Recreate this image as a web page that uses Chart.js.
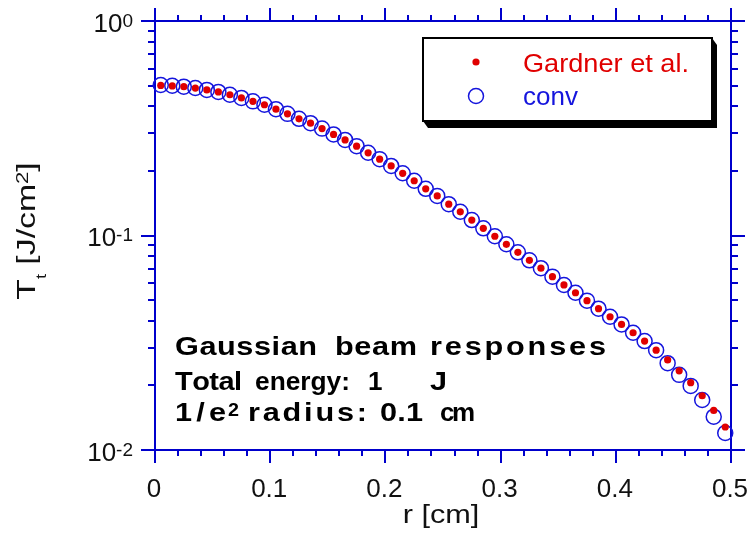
<!DOCTYPE html>
<html>
<head>
<meta charset="utf-8">
<script src="https://cdn.jsdelivr.net/npm/chart.js@4.4.1/dist/chart.umd.min.js"></script>
<style>
  html, body { margin: 0; padding: 0; background: #ffffff; }
  #wrap { width: 754px; height: 535px; position: relative; }
</style>
</head>
<body>
<div id="wrap"><canvas id="c" width="754" height="535"></canvas></div>
<script>
// Radial positions r [cm]
const radius = [
  0.005, 0.015, 0.025, 0.035, 0.045, 0.055, 0.065, 0.075, 0.085, 0.095,
  0.105, 0.115, 0.125, 0.135, 0.145, 0.155, 0.165, 0.175, 0.185, 0.195,
  0.205, 0.215, 0.225, 0.235, 0.245, 0.255, 0.265, 0.275, 0.285, 0.295,
  0.305, 0.315, 0.325, 0.335, 0.345, 0.355, 0.365, 0.375, 0.385, 0.395,
  0.405, 0.415, 0.425, 0.435, 0.445, 0.455, 0.465, 0.475, 0.485, 0.495
];

// Transmitted fluence T_t [J/cm^2], Gardner et al.
const gardner = [
  0.501, 0.498, 0.494, 0.487, 0.477, 0.467, 0.453, 0.438, 0.422, 0.407,
  0.388, 0.369, 0.350, 0.334, 0.315, 0.296, 0.279, 0.261, 0.243, 0.227,
  0.211, 0.195, 0.180, 0.165, 0.153, 0.140, 0.129, 0.118, 0.108, 0.0992,
  0.0910, 0.0835, 0.0766, 0.0704, 0.0643, 0.0588, 0.0541, 0.0497, 0.0456, 0.0418,
  0.0385, 0.0352, 0.0322, 0.0292, 0.0263, 0.0234, 0.0206, 0.0179, 0.0153, 0.0128
];

// Transmitted fluence T_t [J/cm^2], convolution result
const conv = [
  0.503, 0.499, 0.494, 0.487, 0.477, 0.467, 0.453, 0.438, 0.422, 0.407,
  0.388, 0.369, 0.350, 0.334, 0.315, 0.296, 0.279, 0.261, 0.243, 0.227,
  0.211, 0.195, 0.180, 0.165, 0.153, 0.140, 0.129, 0.118, 0.108, 0.0992,
  0.0910, 0.0835, 0.0766, 0.0704, 0.0643, 0.0588, 0.0541, 0.0497, 0.0456, 0.0418,
  0.0385, 0.0352, 0.0322, 0.0292, 0.0254, 0.0224, 0.0199, 0.0171, 0.0143, 0.0120
];

// Axis ticks
const xTicks = [0, 0.1, 0.2, 0.3, 0.4, 0.5];
const xTickLabels = ['0', '0.1', '0.2', '0.3', '0.4', '0.5'];
const yDecades = [1, 0.1, 0.01];
const yTickExponents = ['0', '-1', '-2'];

const seriesNames = ['Gardner et al.', 'conv'];
const infoLines = [
  ['Gaussian', 'beam', 'responses'],
  ['Total', 'energy:', '1', 'J'],
  ['1/e', '2', 'radius:', '0.1', 'cm']
];

const AXIS = '#0000cc';
const RED = '#e00000';
const BLUE = '#1515dd';
const FONT = '"Liberation Sans", Arial, Helvetica, sans-serif';

function toPoints(xs, ys) {
  return xs.map((x, i) => ({ x: x, y: ys[i] }));
}

// Draws a word so that it spans x0..x1: glyphs are widened a little,
// whatever is left goes into the gaps between letters
function drawSpread(ctx, text, x0, x1, y) {
  const chars = Array.from(text);
  const natural = ctx.measureText(text).width;
  const target = x1 - x0;
  const sx = Math.max(1, Math.min(1.18, target / natural));
  let w = 0;
  chars.forEach(c => { w += ctx.measureText(c).width * sx; });
  const gap = chars.length > 1 ? (target - w) / (chars.length - 1) : 0;
  let x = x0;
  ctx.textAlign = 'left';
  chars.forEach(c => {
    ctx.save();
    ctx.translate(x, y);
    ctx.scale(sx, 1);
    ctx.fillText(c, 0, 0);
    ctx.restore();
    x += ctx.measureText(c).width * sx + gap;
  });
}

const framePlugin = {
  id: 'frame',
  beforeDatasetsDraw(chart) {
    const ctx = chart.ctx;
    const xs = chart.scales.x, ys = chart.scales.y;
    const a = chart.chartArea;
    ctx.save();
    ctx.strokeStyle = AXIS;
    ctx.lineWidth = 2;
    ctx.lineCap = 'butt';
    ctx.strokeRect(a.left, a.top, a.right - a.left, a.bottom - a.top);

    const line = (x1, y1, x2, y2) => {
      ctx.beginPath(); ctx.moveTo(x1, y1); ctx.lineTo(x2, y2); ctx.stroke();
    };

    // x ticks (bottom and top, pointing outward)
    for (let i = 0; i < xTicks.length; i++) {
      const px = Math.round(xs.getPixelForValue(xTicks[i]));
      line(px, a.bottom, px, a.bottom + 13);
      line(px, a.top, px, a.top - 13);
      if (i < xTicks.length - 1) {
        const step = (xTicks[i + 1] - xTicks[i]) / 5;
        for (let k = 1; k < 5; k++) {
          const mx = Math.round(xs.getPixelForValue(xTicks[i] + k * step));
          line(mx, a.bottom, mx, a.bottom + 6);
          line(mx, a.top, mx, a.top - 6);
        }
      }
    }

    // y ticks (left and right, pointing outward)
    yDecades.forEach((d, i) => {
      const py = Math.round(ys.getPixelForValue(d));
      line(a.left - 14, py, a.left, py);
      line(a.right, py, a.right + 14, py);
      if (i < yDecades.length - 1) {
        const lower = yDecades[i + 1];
        for (let m = 2; m <= 9; m++) {
          const my = Math.round(ys.getPixelForValue(lower * m));
          line(a.left - 7, my, a.left, my);
          line(a.right, my, a.right + 7, my);
        }
      }
    });

    // tick labels
    ctx.fillStyle = '#111111';
    ctx.textBaseline = 'alphabetic';
    ctx.font = '26px ' + FONT;
    ctx.textAlign = 'center';
    xTicks.forEach((v, i) => {
      ctx.fillText(xTickLabels[i], xs.getPixelForValue(v) - 1, a.bottom + 47);
    });

    yDecades.forEach((d, i) => {
      const py = ys.getPixelForValue(d);
      const base = py + 10.5;
      ctx.font = '26px ' + FONT;
      const wBase = ctx.measureText('10').width;
      ctx.font = '19px ' + FONT;
      const wExp = ctx.measureText(yTickExponents[i]).width;
      const right = a.left - 22;
      ctx.textAlign = 'left';
      ctx.font = '26px ' + FONT;
      ctx.fillText('10', right - wExp - wBase, base);
      ctx.font = '19px ' + FONT;
      ctx.fillText(yTickExponents[i], right - wExp, base - 5);
    });
    ctx.restore();
  },
  afterDraw(chart) {
    const ctx = chart.ctx;
    const a = chart.chartArea;
    ctx.save();

    // x title, slightly widened
    ctx.fillStyle = '#111111';
    ctx.textBaseline = 'alphabetic';
    ctx.font = '26px ' + FONT;
    ctx.textAlign = 'center';
    ctx.save();
    ctx.translate((a.left + a.right) / 2 - 2, 523);
    ctx.scale(1.18, 1);
    ctx.fillText('r [cm]', 0, 0);
    ctx.restore();

    // y title, rotated and drawn a little wider along its reading direction
    ctx.save();
    ctx.translate(35, 231);
    ctx.rotate(-Math.PI / 2);
    ctx.scale(1.3, 1);
    const parts = [
      { t: 'T', f: 26, dy: 0 },
      { t: 't', f: 14, dy: 11 },
      { t: ' [J/cm', f: 26, dy: 0 },
      { t: '2', f: 17, dy: -7 },
      { t: ']', f: 26, dy: 0 }
    ];
    let total = 0;
    parts.forEach(p => { ctx.font = p.f + 'px ' + FONT; p.w = ctx.measureText(p.t).width; total += p.w; });
    let x = -total / 2;
    ctx.textAlign = 'left';
    parts.forEach(p => {
      ctx.font = p.f + 'px ' + FONT;
      ctx.fillText(p.t, x, p.dy);
      x += p.w;
    });
    ctx.restore();

    // legend box with drop shadow
    const L = 423, T = 38, R = 712, B = 121, sx = 5, sy = 7;
    ctx.fillStyle = '#000000';
    ctx.beginPath();
    ctx.moveTo(R, T);
    ctx.lineTo(R + sx, T + sy);
    ctx.lineTo(R + sx, B + sy);
    ctx.lineTo(L + sx, B + sy);
    ctx.lineTo(L, B);
    ctx.closePath();
    ctx.fill();
    ctx.fillStyle = '#ffffff';
    ctx.fillRect(L, T, R - L, B - T);
    ctx.strokeStyle = '#000000';
    ctx.lineWidth = 2;
    ctx.strokeRect(L, T, R - L, B - T);

    ctx.fillStyle = RED;
    ctx.beginPath(); ctx.arc(476, 62, 3.6, 0, Math.PI * 2); ctx.fill();
    ctx.strokeStyle = BLUE;
    ctx.lineWidth = 1.5;
    ctx.beginPath(); ctx.arc(476, 96, 7.5, 0, Math.PI * 2); ctx.stroke();

    ctx.font = '26px ' + FONT;
    ctx.textAlign = 'left';
    ctx.fillStyle = RED;
    drawSpread(ctx, seriesNames[0], 523, 689, 72);
    ctx.fillStyle = BLUE;
    ctx.fillText(seriesNames[1], 523, 105);

    // annotation block
    ctx.fillStyle = '#000000';
    ctx.font = 'bold 26px ' + FONT;
    const l1 = infoLines[0], l2 = infoLines[1], l3 = infoLines[2];
    drawSpread(ctx, l1[0], 175, 317, 355);
    drawSpread(ctx, l1[1], 335, 417, 355);
    drawSpread(ctx, l1[2], 430, 606, 355);

    drawSpread(ctx, l2[0], 175, 242, 390);
    drawSpread(ctx, l2[1], 255, 350, 390);
    drawSpread(ctx, l2[2], 368, 382, 390);
    drawSpread(ctx, l2[3], 430, 450, 390);

    drawSpread(ctx, l3[0], 175, 226, 421);
    ctx.font = 'bold 18px ' + FONT;
    drawSpread(ctx, l3[1], 228, 239, 416);
    ctx.font = 'bold 26px ' + FONT;
    drawSpread(ctx, l3[2], 248, 367, 421);
    drawSpread(ctx, l3[3], 380, 423, 421);
    drawSpread(ctx, l3[4], 440, 475, 421);

    ctx.restore();
  }
};

new Chart(document.getElementById('c'), {
  type: 'scatter',
  data: {
    datasets: [
      {
        label: seriesNames[0],
        data: toPoints(radius, gardner),
        showLine: false,
        pointStyle: 'circle',
        pointRadius: 3.6,
        pointBackgroundColor: RED,
        pointBorderWidth: 0,
        clip: false
      },
      {
        label: seriesNames[1],
        data: toPoints(radius, conv),
        showLine: false,
        pointStyle: 'circle',
        pointRadius: 7.5,
        pointBackgroundColor: 'rgba(0,0,0,0)',
        pointBorderColor: BLUE,
        pointBorderWidth: 1.5,
        clip: false
      }
    ]
  },
  options: {
    responsive: false,
    animation: false,
    devicePixelRatio: 1,
    layout: { padding: { left: 155, right: 23, top: 21, bottom: 85 } },
    scales: {
      x: { type: 'linear', min: 0, max: 0.5, display: false },
      y: { type: 'logarithmic', min: 0.01, max: 1, display: false }
    },
    plugins: {
      legend: { display: false },
      tooltip: { enabled: false }
    },
    events: []
  },
  plugins: [framePlugin]
});
</script>
</body>
</html>
